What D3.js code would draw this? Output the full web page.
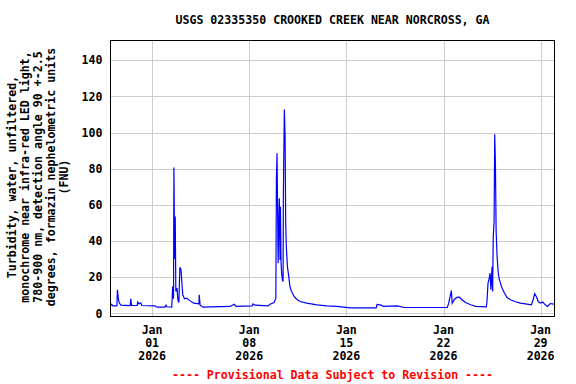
<!DOCTYPE html>
<html>
<head>
<meta charset="utf-8">
<script src="https://cdn.jsdelivr.net/npm/d3@7"></script>
<style>
  html, body { margin: 0; padding: 0; background: #fff; }
  svg { display: block; }
  text { font-family: "DejaVu Sans Mono", "Liberation Mono", monospace; font-weight: bold; font-size: 11.6px; }
</style>
</head>
<body>
<svg id="chart" width="576" height="384"></svg>
<script>
const TITLE = 'USGS 02335350 CROOKED CREEK NEAR NORCROSS, GA';
const FOOTER = '---- Provisional Data Subject to Revision ----';
const Y_LABEL_LINES = [
    'Turbidity, water, unfiltered,',
    'monochrome near infra-red LED light,',
    '780-900 nm, detection angle 90 +-2.5',
    'degrees, formazin nephelometric units',
    '(FNU)'
];

// hours since 2025-12-29 00:00
const hours = [
    0, 2, 4, 11, 12, 13.5, 15, 18, 34, 35, 36.5, 46, 47, 49, 52.5, 54,
    77, 80, 94, 96, 97.5, 106, 107.5, 109, 109.7, 111, 112, 113, 115, 116.6,
    118.3, 120, 122, 123.5, 125, 128, 132, 137, 144, 153, 153.5, 155, 160,
    207, 214, 217, 245, 246.5, 250, 272.5, 276, 283, 286, 287, 288, 290,
    291, 292, 293.3, 294, 295, 296, 297.3, 298.5, 299, 300.7, 302, 303, 304,
    306, 308.4, 310, 312, 314.6, 317.6, 322, 328, 339.6, 357, 374, 391.5,
    414.6, 459.6, 461, 468, 472, 496, 508, 582.6, 585, 589.6, 591, 595, 600,
    603.5, 608, 614, 623, 631.5, 650, 651, 653, 654.5, 656.6, 658, 660, 661,
    662, 663.5, 664.6, 665.8, 667, 668.7, 670.5, 672, 674.5, 677.4, 681.4,
    686, 691.8, 700.5, 709, 720.7, 728, 731, 733.7, 736.6, 739.8, 743.5,
    747.6, 752, 756, 760.7, 766.5, 768
];
const turbidity = [
    4.1, 5, 4.1, 4.1, 13, 8.4, 5.8, 4.5, 4.3, 8, 4.3, 4.3, 6.3, 5.2, 5.8, 4.3,
    4.1, 3.4, 3.4, 4.5, 3.6, 3.4, 14.8, 8, 80.7, 30, 53.5, 12, 14, 7.4,
    6, 25.5, 24, 16.8, 10.2, 8, 8.4, 7, 5.6, 5.2, 10.2, 4.5, 3.4,
    3.8, 5, 3.8, 4.1, 5.2, 4.5, 4.1, 5, 6, 8.4, 74.7, 88.5, 27.7,
    48.9, 63.6, 29.5, 59, 27.9, 22.4, 18.5, 17.6, 64.5, 112.8, 97.6, 50.7, 37.8,
    25.8, 20.3, 15.7, 13, 11.2, 9.3, 7.8, 6.5, 5.6, 4.7, 4.1, 3.8,
    3.0, 3.0, 4.9, 4.5, 3.8, 4.1, 3.2, 3.2, 5.6, 12.6, 5.6, 7.8, 8.9,
    8.9, 7.5, 6, 4.7, 3.8, 3.6, 5.6, 16.7, 18.5, 22.2, 13, 25.8, 12,
    41.5, 50.7, 99.1, 83, 46, 31.4, 23.1, 19.4, 16.7, 13.9, 11.2,
    8.7, 7.5, 6.4, 5.6, 5.1, 4.7, 7.5, 10.8, 9.3, 6.5, 5.6,
    6.2, 4.7, 3.8, 5.4, 5.1, 5.1
];
const yTicks = [0, 20, 40, 60, 80, 100, 120, 140];
const xTickDates = ['2026-01-01', '2026-01-08', '2026-01-15', '2026-01-22', '2026-01-29'];

const start = new Date(2025, 11, 29);
const end = new Date(2026, 0, 30);
const parseDay = d3.timeParse('%Y-%m-%d');

const plot = { left: 110.5, right: 554.5, top: 40, bottom: 316 };

const svg = d3.select('#chart');

const x = d3.scaleTime().domain([start, end]).range([plot.left, plot.right]);
const y = d3.scaleLinear().domain([-1.5, 151.2]).range([plot.bottom, plot.top]);

const points = hours.map((h, i) => ({
    date: new Date(start.getTime() + h * 3600e3),
    value: turbidity[i]
}));

// grid
const grid = svg.append('g')
    .attr('stroke', '#cccccc')
    .attr('stroke-width', 1)
    .attr('shape-rendering', 'crispEdges');

yTicks.forEach(t => {
    grid.append('line')
        .attr('x1', plot.left).attr('x2', plot.right)
        .attr('y1', Math.round(y(t)) + 0.5).attr('y2', Math.round(y(t)) + 0.5);
});

xTickDates.map(parseDay).forEach(d => {
    grid.append('line')
        .attr('x1', Math.round(x(d)) + 0.5).attr('x2', Math.round(x(d)) + 0.5)
        .attr('y1', plot.top).attr('y2', plot.bottom);
});

// data line
const line = d3.line()
    .x(d => x(d.date))
    .y(d => y(d.value));

svg.append('defs').append('clipPath').attr('id', 'clip')
    .append('rect')
    .attr('x', plot.left).attr('y', plot.top)
    .attr('width', plot.right - plot.left).attr('height', plot.bottom - plot.top);

svg.append('path')
    .datum(points)
    .attr('clip-path', 'url(#clip)')
    .attr('fill', 'none')
    .attr('stroke', '#0000ff')
    .attr('stroke-width', 1.2)
    .attr('stroke-linejoin', 'miter')
    .attr('d', line);

// frame
svg.append('rect')
    .attr('x', plot.left).attr('y', plot.top)
    .attr('width', plot.right - plot.left).attr('height', plot.bottom - plot.top)
    .attr('fill', 'none')
    .attr('stroke', '#000')
    .attr('stroke-width', 1)
    .attr('shape-rendering', 'crispEdges');

// y tick labels
const yAxis = d3.axisLeft(y).tickValues(yTicks).tickSize(0).tickPadding(8);
const yg = svg.append('g')
    .attr('transform', `translate(${plot.left},0)`)
    .call(yAxis);
yg.select('.domain').remove();
yg.selectAll('text')
    .attr('fill', '#000')
    .style('font-family', '"DejaVu Sans Mono", monospace')
    .style('font-weight', 'bold')
    .style('font-size', '11.6px');

// x tick labels (three lines)
const fmtMon = d3.timeFormat('%b');
const fmtDay = d3.timeFormat('%d');
const fmtYear = d3.timeFormat('%Y');
xTickDates.map(parseDay).forEach(d => {
    const t = svg.append('text')
        .attr('x', x(d))
        .attr('text-anchor', 'middle')
        .attr('fill', '#000');
    [fmtMon(d), fmtDay(d), fmtYear(d)].forEach((s, i) => {
        t.append('tspan')
            .attr('x', x(d))
            .attr('y', 334 + i * 13)
            .text(s);
    });
});

// title
svg.append('text')
    .attr('x', (plot.left + plot.right) / 2)
    .attr('y', 24)
    .attr('text-anchor', 'middle')
    .attr('fill', '#000')
    .text(TITLE);

// y axis label
const yl = svg.append('text')
    .attr('transform', 'translate(0,177) rotate(-90)')
    .attr('text-anchor', 'middle')
    .attr('fill', '#000');
Y_LABEL_LINES.forEach((s, i) => {
    yl.append('tspan')
        .attr('x', 0)
        .attr('y', 16 + i * 13)
        .text(s);
});

// footer
svg.append('text')
    .attr('x', (plot.left + plot.right) / 2)
    .attr('y', 379)
    .attr('text-anchor', 'middle')
    .attr('fill', '#ff0000')
    .text(FOOTER);
</script>
</body>
</html>
